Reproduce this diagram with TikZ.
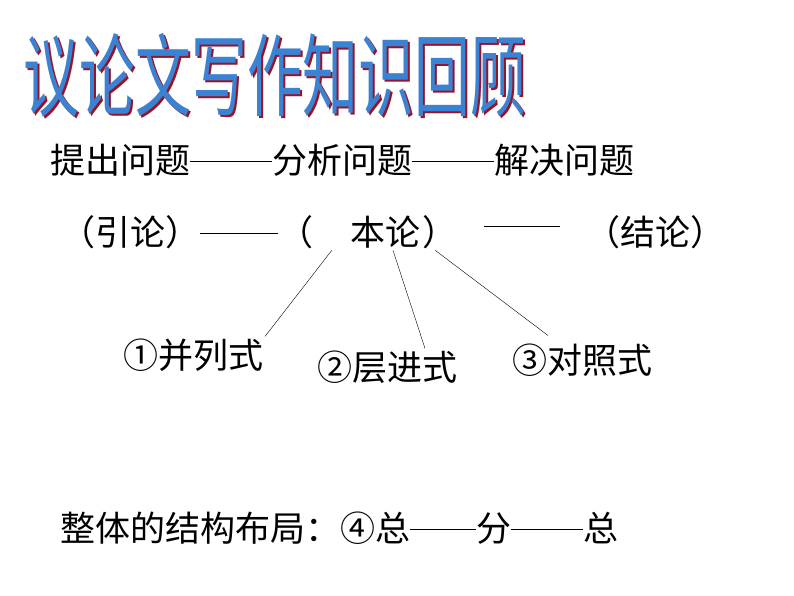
\documentclass[tikz,border=0pt]{standalone}
\usepackage{fontspec}
\setmainfont{Noto Sans CJK SC}
\usetikzlibrary{positioning, calc}
\definecolor{titleblue}{RGB}{60,130,210}
\definecolor{shadowred}{RGB}{150,20,40}
\newcommand{\longdash}[1]{\rule[0.32em]{#1}{1.3pt}}

\begin{document}
\begin{tikzpicture}[x=1pt,y=-1pt,
    txt/.style={inner sep=0pt, font=\fontsize{35}{35}\selectfont},
    ttl/.style={inner sep=0pt, font=\fontsize{90}{90}\selectfont, xscale=0.62}]
    \useasboundingbox (0,0) rectangle (794,596);

    % title with shadow
    \node[ttl, text=shadowred] (titleshadow) at (277,77) {议论文写作知识回顾};
    \node[ttl, text=titleblue] (title) at (275,75) {议论文写作知识回顾};

    % steps
    \node[txt, anchor=west] (steps) at (50,160) {提出问题\longdash{82pt}分析问题\longdash{82pt}解决问题};

    % parts
    \node[txt, anchor=west] (yinlun) at (60,232) {（引论）\longdash{78pt}（};
    \node[txt] (benlun) at (385,232) {本论};
    \node[txt] (rparen) at (440,232) {）};
    \node[txt] (dash) at (522,232) {\longdash{76pt}};
    \node[txt, anchor=west] (jielun) at (585,232) {（结论）};

    % structures
    \node[txt] (bingliu) at (193,355) {①并列式};
    \node[txt] (cengjin) at (387,367) {②层进式};
    \node[txt] (duizhao) at (582,360) {③对照式};

    \coordinate (b1) at ($(benlun.south west)+(-18,2)$);
    \coordinate (b2) at ($(benlun.south)+(8,2)$);
    \coordinate (b3) at ($(benlun.south east)+(15,2)$);
    \draw (b1) -- ($(bingliu.north)+(72,-2)$);
    \draw (b2) -- ($(cengjin.north)+(38,-2)$);
    \draw (b3) -- ($(duizhao.north)+(-34,-8)$);

    % overall
    \node[txt, anchor=west] (overall) at (60,528) {整体的结构布局：④总\longdash{66pt}分\longdash{72pt}总};
\end{tikzpicture}
\end{document}
